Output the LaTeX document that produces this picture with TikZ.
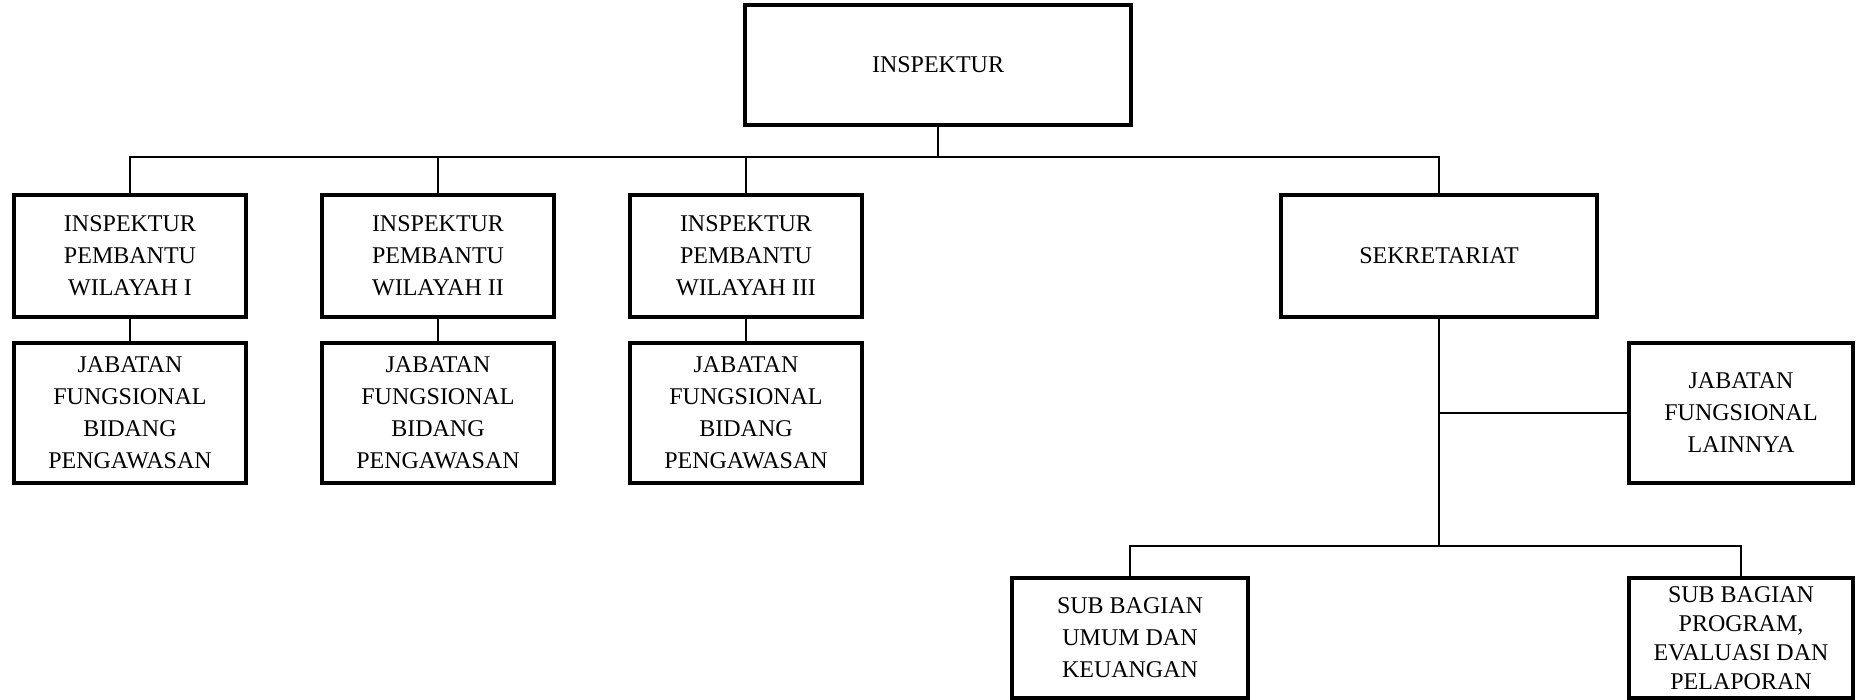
\documentclass[tikz,border=0pt]{standalone}
\usepackage{fontspec}
\setmainfont{Liberation Serif}
\usetikzlibrary{positioning}

\begin{document}
\begin{tikzpicture}[
        x=0.5pt, y=-0.5pt,
        orgbox/.style={rectangle, draw=black, line width=2pt, align=center, inner sep=0pt,
            font=\fontsize{12}{16}\selectfont},
        wilayah/.style={orgbox, minimum width=116pt, minimum height=61pt},
        jabatan/.style={orgbox, minimum width=116pt, minimum height=70pt},
        subbag/.style={orgbox, minimum height=60pt},
        link/.style={line width=1.1pt}
    ]
    \useasboundingbox (0,0) rectangle (1856,700);

        \node [orgbox, minimum width=193pt, minimum height=60pt] (Insp) at (938,65) {INSPEKTUR};

        \node [wilayah] (Wil1) at (130,256) {INSPEKTUR\\PEMBANTU\\WILAYAH I};
        \node [wilayah] (Wil2) at (438,256) {INSPEKTUR\\PEMBANTU\\WILAYAH II};
        \node [wilayah] (Wil3) at (746,256) {INSPEKTUR\\PEMBANTU\\WILAYAH III};
        \node [wilayah, minimum width=158pt] (Sekr) at (1439,256) {SEKRETARIAT};

        \node [jabatan] (Jab1) at (130,413) {JABATAN\\FUNGSIONAL\\BIDANG\\PENGAWASAN};
        \node [jabatan] (Jab2) at (438,413) {JABATAN\\FUNGSIONAL\\BIDANG\\PENGAWASAN};
        \node [jabatan] (Jab3) at (746,413) {JABATAN\\FUNGSIONAL\\BIDANG\\PENGAWASAN};
        \node [jabatan, minimum width=112pt] (JabL) at (1741,413) {JABATAN\\FUNGSIONAL\\LAINNYA};

        \node [subbag, minimum width=118pt] (SubUmum) at (1130,638) {SUB BAGIAN\\UMUM DAN\\KEUANGAN};
        \node [subbag, minimum width=112pt, font=\fontsize{12}{14.5}\selectfont] (SubProg) at (1741,638)
            {SUB BAGIAN\\PROGRAM,\\EVALUASI DAN\\PELAPORAN};

        \coordinate (TopBus) at (938,157);
        \coordinate (SekrBus) at (1439,546);
        \coordinate (SekrSide) at (1439,413);

        \draw [link] (Insp.south) -- (TopBus);
        \draw [link] (Wil1.north) |- (TopBus) -| (Sekr.north);
        \draw [link] (Wil2.north) -- (Wil2.north |- TopBus);
        \draw [link] (Wil3.north) -- (Wil3.north |- TopBus);

        \draw [link] (Wil1.south) -- (Jab1.north);
        \draw [link] (Wil2.south) -- (Jab2.north);
        \draw [link] (Wil3.south) -- (Jab3.north);

        \draw [link] (Sekr.south) -- (SekrBus);
        \draw [link] (SekrSide) -- (JabL.west);
        \draw [link] (SubUmum.north) |- (SekrBus) -| (SubProg.north);

    \end{tikzpicture}
\end{document}
